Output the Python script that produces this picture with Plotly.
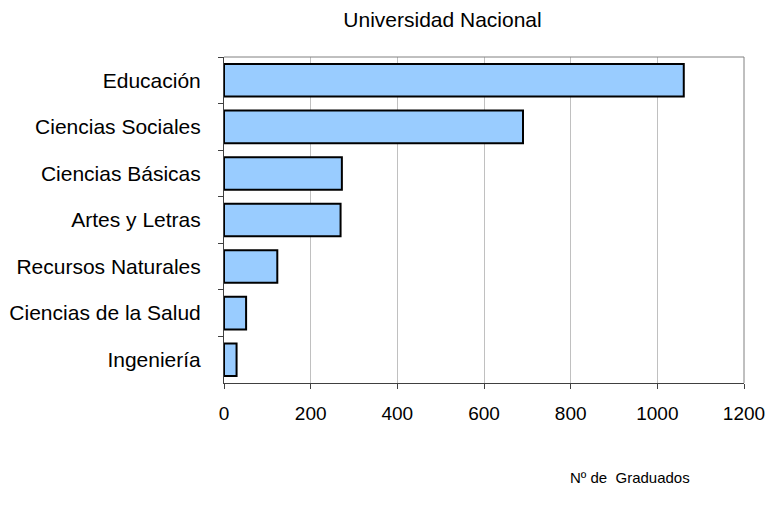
import plotly.graph_objects as go

categories = ["Educación", "Ciencias Sociales", "Ciencias Básicas", "Artes y Letras",
              "Recursos Naturales", "Ciencias de la Salud", "Ingeniería"]
graduados = [1061, 690, 272, 269, 123, 51, 29]
x_ticks = [0, 200, 400, 600, 800, 1000, 1200]

# page body has an 8px margin; figure coords = page coords - 8
W, H = 757, 493
L, R, T, B = 216, 21, 49, 118
pw, ph = W - L - R, H - T - B

fig = go.Figure(go.Bar(
    y=categories, x=graduados, orientation="h",
    marker=dict(color="#99CCFF", line=dict(color="black", width=2)),
    width=0.7,
))

font = "Liberation Sans, Arial, sans-serif"
fig.update_layout(
    width=W, height=H,
    margin=dict(l=L, r=R, t=T, b=B, autoexpand=False),
    paper_bgcolor="white", plot_bgcolor="white",
    font=dict(family=font, size=21, color="black"),
    showlegend=False,
    title=dict(text="Universidad Nacional", x=434.5 / W, xanchor="center",
               y=1 - 12 / H, yanchor="middle", font=dict(size=21)),
    xaxis=dict(range=[0, 1200], tickvals=x_ticks, ticktext=[str(v) for v in x_ticks],
               tickfont=dict(size=19),
               showgrid=True, gridcolor="#C0C0C0", gridwidth=1,
               showline=True, linecolor="#404040", linewidth=1,
               ticks="outside", ticklen=5, tickcolor="#404040",
               ticklabelstandoff=8, ticklabeloverflow="allow", automargin=False,
               zeroline=False, fixedrange=True),
    yaxis=dict(categoryorder="array", categoryarray=categories, autorange="reversed",
               showline=True, linecolor="#404040", linewidth=1,
               ticks="outside", ticklen=5, tickcolor="#404040", tickson="boundaries",
               ticklabelstandoff=18, automargin=False, showgrid=False, fixedrange=True),
    annotations=[dict(text="Nº de  Graduados", xref="paper", yref="paper",
                      x=(622 - L) / pw, y=-(470 - (T + ph)) / ph,
                      xanchor="center", yanchor="middle", showarrow=False,
                      font=dict(size=15))],
    shapes=[dict(type="line", xref="paper", yref="paper", x0=0, x1=1, y0=1, y1=1,
                 line=dict(color="#808080", width=1)),
            dict(type="line", xref="paper", yref="paper", x0=1, x1=1, y0=0, y1=1,
                 line=dict(color="#808080", width=1))],
)

fig.write_html("out.html")
